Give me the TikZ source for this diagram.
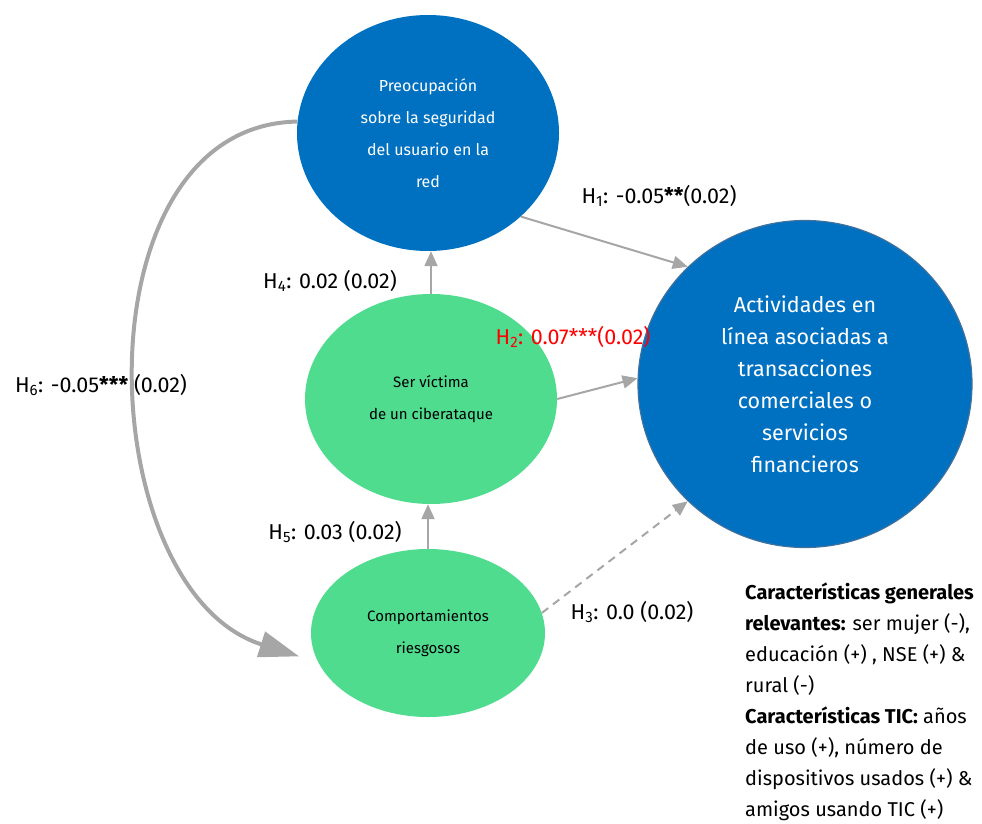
\documentclass[tikz,border=0pt]{standalone}
\usepackage{fontspec}
\setmainfont{Fira Sans}
\usetikzlibrary{arrows.meta,shapes,positioning}
\definecolor{nodeblue}{HTML}{0070C0}
\definecolor{nodegreen}{HTML}{4FDC8F}
\definecolor{linegray}{HTML}{A6A6A6}
\definecolor{rimblue}{HTML}{41719C}
\tikzset{
    sem/.style={x=1pt,y=-1pt},
    factor/.style={ellipse, fill=nodeblue, text=white, align=center, inner sep=0pt,
                   font=\fontsize{16}{32}\selectfont},
    gfactor/.style={ellipse, fill=nodegreen, text=black, align=center, inner sep=0pt,
                    font=\fontsize{15}{32}\selectfont},
    coef/.style={inner sep=0pt, font=\fontsize{21.5}{24}\selectfont},
    link/.style={-{Triangle[length=15pt,width=13pt]}, draw=linegray, line width=2pt},
    }

\begin{document}
\begin{tikzpicture}[sem]
    \useasboundingbox (0,0) rectangle (982,824);

    \node[factor, minimum width=262pt, minimum height=236pt] (pre) at (428,133)
        {Preocupación\\ sobre la seguridad\\ del usuario en la\\ red};
    \node[factor, draw=rimblue, line width=1.2pt, minimum width=334pt, minimum height=327pt,
          font=\fontsize{21.5}{32}\selectfont] (act) at (805,384)
        {Actividades en\\ línea asociadas a\\ transacciones\\ comerciales o\\ servicios\\ financieros};
    \node[gfactor, minimum width=252pt, minimum height=210pt] (vic) at (431,399)
        {Ser víctima\\ de un ciberataque};
    \node[gfactor, minimum width=234pt, minimum height=168pt] (rie) at (428,633)
        {Comportamientos\\ riesgosos};

    % coeficientes
    \node[coef] (h1) at (659,196) {H\textsubscript{1}: -0.05\textbf{**}(0.02)};
    \node[coef] (h4) at (330,281) {H\textsubscript{4}: 0.02 (0.02)};
    \node[coef, text=red] (h2) at (573,337) {H\textsubscript{2}: 0.07***(0.02)};
    \node[coef] (h6) at (101,385) {H\textsubscript{6}: -0.05\textbf{***} (0.02)};
    \node[coef] (h5) at (335,532) {H\textsubscript{5}: 0.03 (0.02)};
    \node[coef] (h3) at (632,612) {H\textsubscript{3}: 0.0 (0.02)};

    \node[anchor=north west, align=left, inner sep=0pt,
          font=\fontsize{20}{31}\selectfont] (notas) at (745,583)
        {\textbf{Características generales}\\
         \textbf{relevantes:} ser mujer (-),\\
         educación (+) , NSE (+) \&\\
         rural (-)\\
         \textbf{Características TIC:} años\\
         de uso (+), número de\\
         dispositivos usados (+) \&\\
         amigos usando TIC (+)};

    \draw[link] (pre.-42) -- (act.135);
    \draw[link] (vic.north) -- (vic.north |- pre.south);
    \draw[link] (vic.0) -- (act.178);
    \draw[link] (rie.north) -- (rie.north |- vic.south);
    \draw[link, dash pattern=on 8pt off 6pt] (rie.10) -- (act.225);
    \draw[draw=linegray, line width=4pt, -{Triangle[length=40pt,width=26pt]}, shorten >=20pt]
        (pre.175) .. controls (75,125) and (90,590) .. (rie.195);
\end{tikzpicture}
\end{document}
